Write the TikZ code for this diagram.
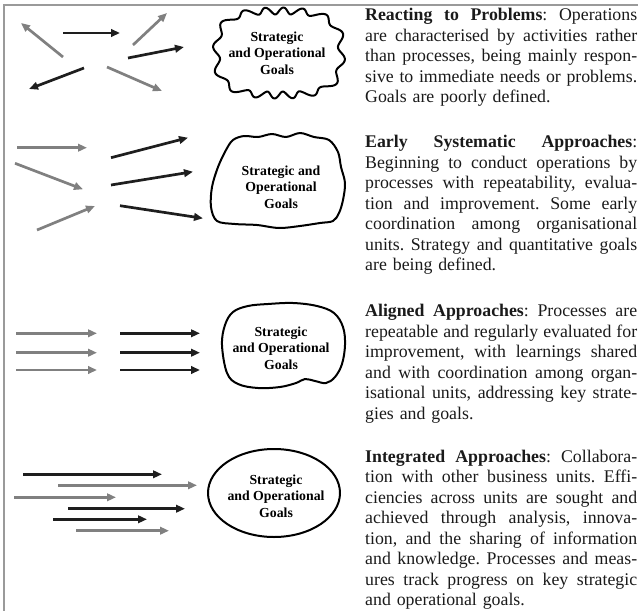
\documentclass[tikz,border=0pt]{standalone}
\usepackage{fontspec}
\setmainfont{Liberation Serif}
\usetikzlibrary{arrows.meta}

\definecolor{arrowgray}{HTML}{808080}
\definecolor{arrowblack}{HTML}{1E1E1E}
\definecolor{framegray}{HTML}{9A9A9A}
\definecolor{bodytext}{HTML}{1A1A1A}

% one fully justified line of a stage description
\newcommand\spreadline[1]{\makebox[272pt][s]{\spaceskip=0pt\xspaceskip=0pt\frenchspacing #1}}

\tikzset{
  flow/.style={line width=2.7pt, -{Triangle[length=9pt,width=7.5pt]}},
  flowgray/.style={flow, draw=arrowgray},
  flowblack/.style={flow, draw=arrowblack},
  goalline/.style={draw=black, line width=2pt, line join=round},
  goaltext/.style={align=center, inner sep=0pt,
    font=\fontsize{13.8}{16.5}\selectfont\bfseries},
  stagetext/.style={anchor=base west, text width=272pt, align=left, inner sep=0pt,
    font=\fontsize{17.8}{20.5}\selectfont\frenchspacing, text=bodytext},
  declare function={
    blobr(\t)=1/((abs(cos(\t)))^3 + (abs(sin(\t))*1.488)^3)^(1/3);
  },
}

\begin{document}
\begin{tikzpicture}[x=1pt,y=-1pt]
\useasboundingbox (0,0) rectangle (638,611);

% frame
\draw[framegray, line width=2pt] (638,4.5) -- (3.5,4.5) -- (3.5,611);

% ---------- stage 1: scattered activities ----------
\draw[flowgray]  (63,57)  -- (21,23);
\draw[flowblack] (63,33)  -- (120,33);
\draw[flowgray]  (133,45) -- (167,13);
\draw[flowblack] (128,58) -- (184,47);
\draw[flowblack] (84,68)  -- (29,89);
\draw[flowgray]  (107,67) -- (162,91);

\draw[goalline] plot[domain=0:360, samples=241, variable=\t]
  ({279 + (62.5*blobr(\t) + 3.5*sin(16*\t))*cos(\t)},
   {53  + (62.5*blobr(\t) + 3.5*sin(16*\t))*sin(\t)}) -- cycle;
\node[goaltext] (goalA) at (277,53) {Strategic\\and Operational\\Goals};

% ---------- stage 2: early systematic ----------
\draw[flowgray]  (17,147.7) -- (87,147.7);
\draw[flowgray]  (15,163.3) -- (83,189.3);
\draw[flowgray]  (37,230)   -- (95,206);
\draw[flowblack] (111,157.7) -- (188,137.7);
\draw[flowblack] (111,185)   -- (193,171.7);
\draw[flowblack] (120,205.7) -- (203,218.3);

\draw[goalline] plot[smooth cycle, tension=0.55] coordinates {
  (226,150) (233,140) (244,136) (258,137) (272,134) (286,137) (300,133)
  (314,137) (329,140) (338,152) (341,167) (345,183) (343,200) (339,213)
  (333,221) (320,223) (300,226) (279,228) (257,225) (235,224) (217,221)
  (211,207) (212,187) (218,167)};
\node[goaltext] (goalB) at (281,187) {Strategic and\\Operational\\Goals};

% ---------- stage 3: aligned ----------
\foreach \yy in {333.3,352.7,370} {
  \draw[flowgray]  (16,\yy)  -- (97,\yy);
  \draw[flowblack] (120,\yy) -- (200,\yy);
}

\draw[goalline] plot[smooth cycle, tension=0.6] coordinates {
  (222,345) (225,325) (233,312) (248,306) (268,304) (293,303) (317,306)
  (334,313) (343,327) (345,345) (342,364) (335,377) (326,383) (315,381)
  (305,379) (296,383) (280,387) (258,388) (238,384) (227,373)};
\node[goaltext] (goalC) at (281,348) {Strategic\\and Operational\\Goals};

% ---------- stage 4: integrated ----------
\draw[flowblack] (23,474.3) -- (162,474.3);
\draw[flowgray]  (58,485.3) -- (197,485.3);
\draw[flowgray]  (14,497.3) -- (116,497.3);
\draw[flowblack] (68,508.7) -- (185,508.7);
\draw[flowblack] (53,519.3) -- (147,519.3);
\draw[flowgray]  (76,530.7) -- (169,530.7);

\draw[goalline] (274,493) ellipse [x radius=66, y radius=44];
\node[goaltext] (goalD) at (276,496) {Strategic\\and Operational\\Goals};

% ---------- stage descriptions ----------
\node[stagetext] (stageA) at (365,20.5) {%
\spreadline{\textbf{Reacting to Problems}: Operations}\\
\spreadline{are characterised by activities rather}\\
\spreadline{than processes, being mainly respon-}\\
\spreadline{sive to immediate needs or problems.}\\
Goals are poorly defined.};

\node[stagetext] (stageB) at (365,147.5) {%
\spreadline{\textbf{Early Systematic Approaches}:}\\
\spreadline{Beginning to conduct operations by}\\
\spreadline{processes with repeatability, evalua-}\\
\spreadline{tion and improvement. Some early}\\
\spreadline{coordination among organisational}\\
\spreadline{units. Strategy and quantitative goals}\\
are being defined.};

\node[stagetext] (stageC) at (365,316.5) {%
\spreadline{\textbf{Aligned Approaches}: Processes are}\\
\spreadline{repeatable and regularly evaluated for}\\
\spreadline{improvement, with learnings shared}\\
\spreadline{and with coordination among organ-}\\
\spreadline{isational units, addressing key strate-}\\
gies and goals.};

\node[stagetext] (stageD) at (365,462) {%
\spreadline{\textbf{Integrated Approaches}: Collabora-}\\
\spreadline{tion with other business units. Effi-}\\
\spreadline{ciencies across units are sought and}\\
\spreadline{achieved through analysis, innova-}\\
\spreadline{tion, and the sharing of information}\\
\spreadline{and knowledge. Processes and meas-}\\
\spreadline{ures track progress on key strategic}\\
and operational goals.};
\end{tikzpicture}
\end{document}
